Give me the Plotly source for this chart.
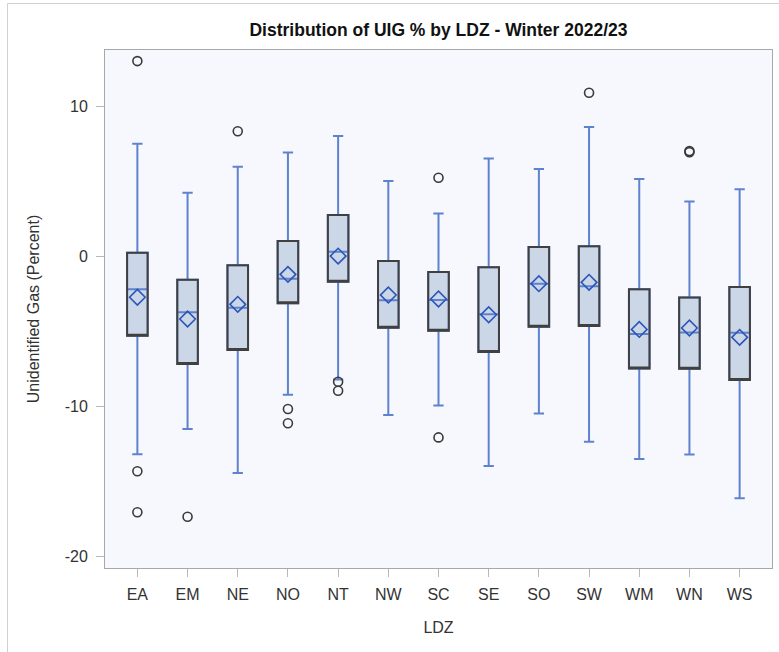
import plotly.graph_objects as go

ldz = ["EA", "EM", "NE", "NO", "NT", "NW", "SC", "SE", "SO", "SW", "WM", "WN", "WS"]
q1 = [-5.28, -7.17, -6.23, -3.12, -1.68, -4.75, -4.95, -6.37, -4.68, -4.63, -7.46, -7.48, -8.23]
median = [-2.19, -3.72, -3.42, -1.48, 0.32, -2.92, -2.90, -3.85, -1.81, -1.99, -5.17, -5.06, -5.08]
q3 = [0.25, -1.55, -0.59, 1.03, 2.77, -0.30, -1.03, -0.72, 0.63, 0.68, -2.19, -2.74, -2.03]
whisker_low = [-13.19, -11.50, -14.43, -9.21, -8.20, -10.57, -9.94, -13.97, -10.46, -12.35, -13.50, -13.21, -16.12]
whisker_high = [7.52, 4.25, 5.99, 6.94, 8.03, 5.03, 2.86, 6.54, 5.83, 8.63, 5.17, 3.66, 4.48]
mean = [-2.72, -4.17, -3.19, -1.19, 0.03, -2.57, -2.83, -3.88, -1.81, -1.72, -4.86, -4.77, -5.39]

outlier_ldz = ["EA", "EA", "EA", "EM", "NE", "NO", "NO", "NT", "NT", "SC", "SC", "SW", "WN", "WN"]
outlier_val = [13.03, -14.32, -17.05, -17.35, 8.35, -10.17, -11.12, -8.35, -8.95, 5.25, -12.06, 10.92, 6.95, 7.03]

y_tickvals = [-20, -10, 0, 10]
y_ticktext = ["-20", "-10", "0", "10"]

BOX_W = 0.41

fig = go.Figure()

# Whiskers, fill and median (blue)
fig.add_trace(go.Box(
    x=ldz, q1=q1, median=median, q3=q3,
    lowerfence=whisker_low, upperfence=whisker_high,
    width=BOX_W, whiskerwidth=0.5,
    fillcolor="#CBD6E6",
    line=dict(color="#5F82CE", width=2),
    boxpoints=False, showlegend=False, hoverinfo="skip",
))

# Dark box outline on top
fig.add_trace(go.Box(
    x=ldz, q1=q1, median=q1, q3=q3,
    lowerfence=q1, upperfence=q3,
    width=BOX_W, whiskerwidth=0,
    fillcolor="rgba(0,0,0,0)",
    line=dict(color="#404040", width=2),
    boxpoints=False, showlegend=False, hoverinfo="skip",
))

# Means
fig.add_trace(go.Scatter(
    x=ldz, y=mean, mode="markers",
    marker=dict(symbol="diamond-open", size=12, color="#2A55BA", line=dict(width=1.6, color="#2A55BA")),
    showlegend=False, hoverinfo="skip",
))

# Outliers
fig.add_trace(go.Scatter(
    x=outlier_ldz, y=outlier_val, mode="markers",
    marker=dict(symbol="circle-open", size=9, color="#3A3A3A", line=dict(width=1.6, color="#3A3A3A")),
    showlegend=False, hoverinfo="skip",
))

axis_font = dict(family="Liberation Sans, Arial, sans-serif", size=16, color="#333333")

fig.update_layout(
    width=779, height=652,
    margin=dict(l=105, r=7, t=50, b=84),
    paper_bgcolor="white",
    plot_bgcolor="#F7F8FE",
    boxmode="overlay",
    font=axis_font,
    title=dict(
        text="<b>Distribution of UIG % by LDZ - Winter 2022/23</b>",
        x=438.5 / 779, xanchor="center",
        y=1 - 30 / 652, yanchor="middle",
        font=dict(family="Liberation Sans, Arial, sans-serif", size=17.5, color="#111111"),
    ),
    xaxis=dict(
        type="category",
        categoryorder="array", categoryarray=ldz,
        range=[-0.645, 12.645],
        automargin=False,
        showline=True, mirror=True, linecolor="#A8A8A8", linewidth=1,
        ticks="outside", ticklen=8, tickcolor="#B8B8B8", tickwidth=1,
        ticklabelstandoff=4,
        showgrid=False, zeroline=False,
        tickfont=axis_font,
        title=dict(text="LDZ", font=axis_font, standoff=19),
    ),
    yaxis=dict(
        range=[-20.77, 13.77],
        tickvals=y_tickvals, ticktext=y_ticktext,
        automargin=False,
        showline=True, mirror=True, linecolor="#A8A8A8", linewidth=1,
        ticks="outside", ticklen=8, tickcolor="#B8B8B8", tickwidth=1,
        ticklabelstandoff=5,
        showgrid=False, zeroline=False,
        tickfont=axis_font,
        title=dict(text="Unidentified Gas (Percent)", font=axis_font, standoff=21),
    ),
    shapes=[dict(
        type="rect", xref="paper", yref="paper",
        x0=(7.5 - 105) / 667, x1=1.2,
        y0=-0.3, y1=(568 - 3.5) / 518,
        line=dict(color="#D0D0D0", width=1), fillcolor="rgba(0,0,0,0)", layer="below",
    )],
)

fig.write_html(
    "out.html",
    config={"displayModeBar": False},
    post_script="document.body.style.margin='0';document.body.style.overflow='hidden';",
)
